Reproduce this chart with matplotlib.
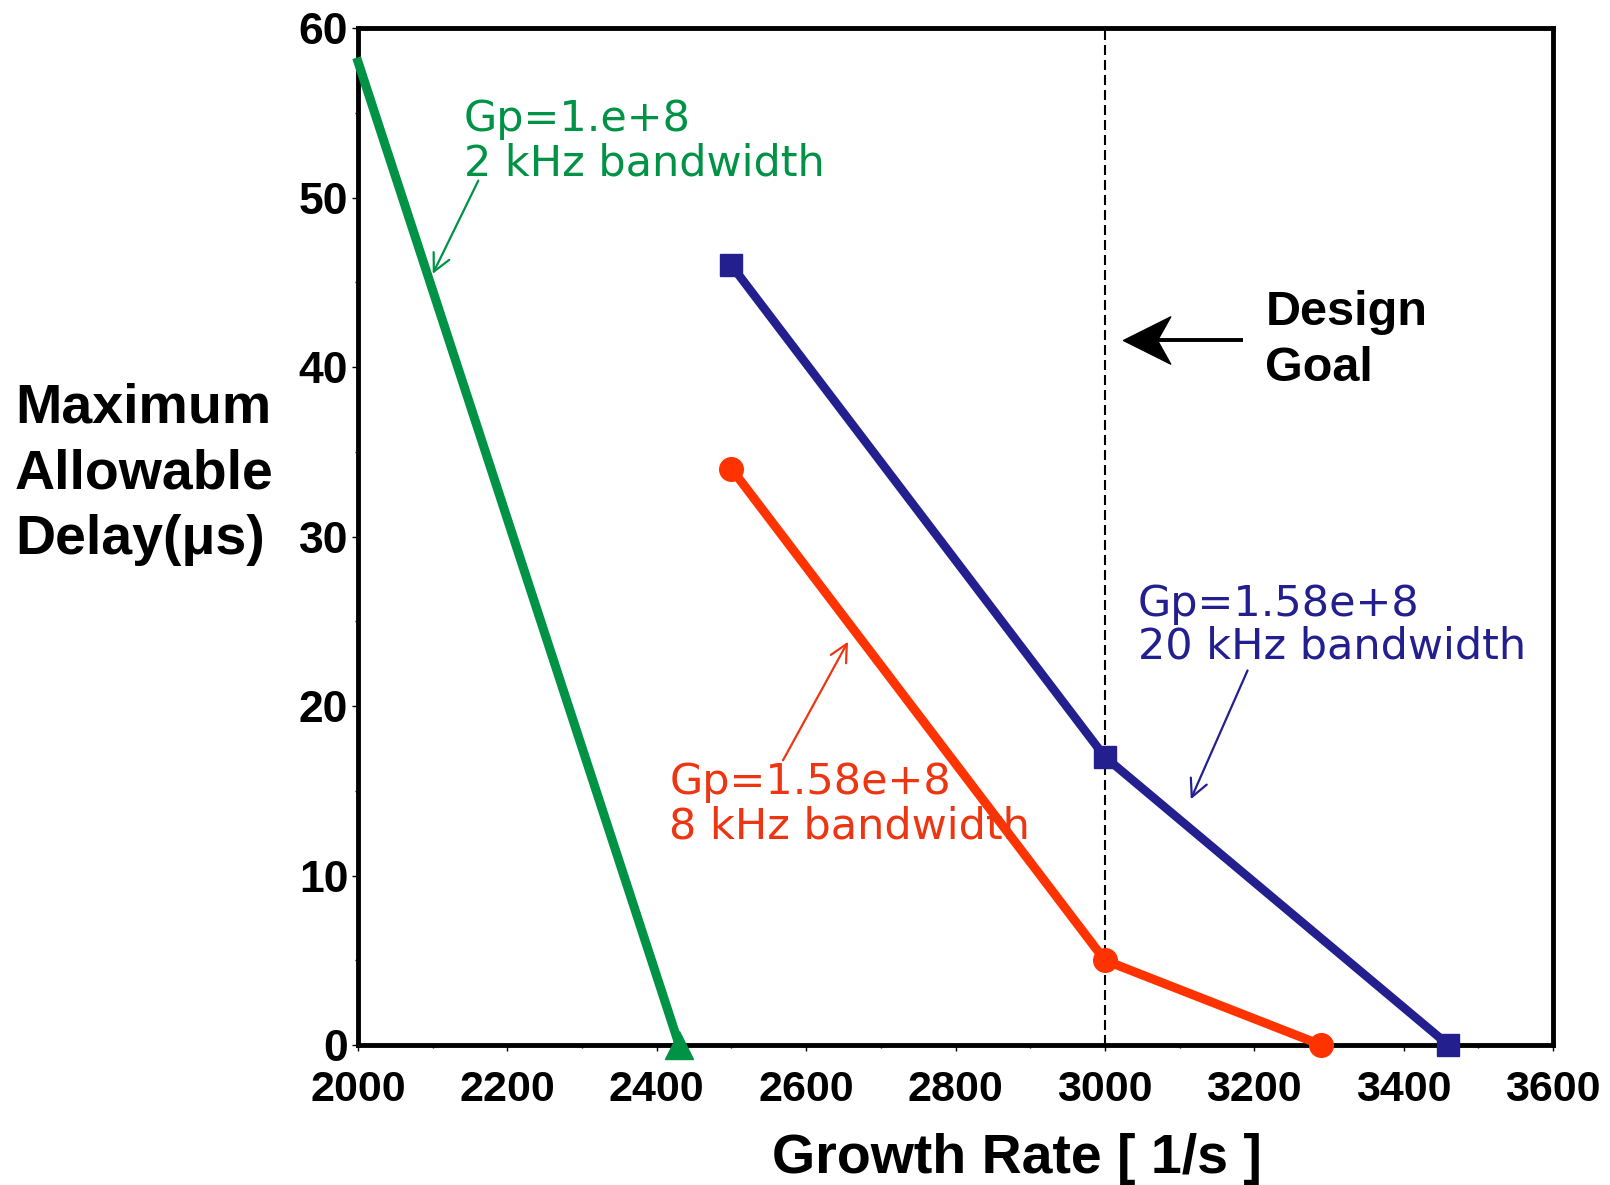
import numpy as np
import matplotlib
matplotlib.use("Agg")
import matplotlib.pyplot as plt
from matplotlib.path import Path
from matplotlib.ticker import MultipleLocator

# growth rate [1/s] vs maximum allowable delay [us]
gp1_rate = [2000, 2430]
gp1_delay = [58, 0]

bw8_rate = [2500, 3000, 3290]
bw8_delay = [34, 5, 0]

bw20_rate = [2500, 3000, 3460]
bw20_delay = [46, 17, 0]

design_goal = 3000

green = "#009245"
red = "#FF3300"
red_txt = "#EE3511"
blue = "#231F8F"

plt.rcParams["font.family"] = ["Liberation Sans", "DejaVu Sans"]

fig = plt.figure(figsize=(16.1, 11.85), dpi=100)
ax = fig.add_axes([0.2224, 0.1181, 0.7422, 0.8582])

ax.plot(gp1_rate, gp1_delay, color=green, lw=6.5, marker="^", markersize=20,
        markevery=[1], clip_on=False, zorder=3)
ax.plot(bw8_rate, bw8_delay, color=red, lw=6.5, marker="o", markersize=17,
        clip_on=False, zorder=3)
ax.plot(bw20_rate, bw20_delay, color=blue, lw=6.2, marker="s", markersize=16,
        clip_on=False, zorder=3)

ax.axvline(design_goal, color="black", lw=1.5, ls=(0, (4.8, 2.4)), zorder=2)

ax.set_xlim(2000, 3600)
ax.set_ylim(0, 60)
ax.xaxis.set_major_locator(MultipleLocator(200))
ax.xaxis.set_minor_locator(MultipleLocator(100))
ax.yaxis.set_major_locator(MultipleLocator(10))
ax.yaxis.set_minor_locator(MultipleLocator(5))

for side in ax.spines.values():
    side.set_linewidth(3.5)
ax.tick_params(which="major", direction="out", length=4, width=1, labelsize=31)
ax.tick_params(which="minor", direction="out", length=2.5, width=1)
ax.tick_params(axis="x", which="major", pad=14)
ax.tick_params(axis="y", which="major", pad=3, labelsize=32)
for lab in ax.get_xticklabels() + ax.get_yticklabels():
    lab.set_fontweight("bold")

ax.set_xlabel("Growth Rate [ 1/s ]", fontsize=40, fontweight="bold")
ax.xaxis.set_label_coords(0.551, -0.086)

# multi-line texts are anchored on the baseline of their last line
fig.text(15 / 1610, 1 - 554 / 1185, "Maximum\nAllowable\nDelay(\u03bcs)",
         fontsize=40, fontweight="bold", ha="left", va="baseline",
         multialignment="left", linespacing=1.34)

# curve labels
note_font = ["DejaVu Sans"]
ax.text(2142, 51.3, "Gp=1.e+8\n2 kHz bandwidth", color=green, fontsize=31,
        family=note_font, va="baseline", linespacing=1.07)
ax.annotate("", xy=(2100, 45.5), xytext=(2161, 51.0),
            arrowprops=dict(arrowstyle="->,head_length=0.5,head_width=0.25",
                            color=green, lw=1.6, mutation_scale=25,
                            shrinkA=0, shrinkB=0))

ax.text(3044, 22.8, "Gp=1.58e+8\n20 kHz bandwidth", color=blue, fontsize=31,
        family=note_font, va="baseline", linespacing=1.03)
ax.annotate("", xy=(3115, 14.5), xytext=(3191, 22.1),
            arrowprops=dict(arrowstyle="->,head_length=0.5,head_width=0.25",
                            color=blue, lw=1.6, mutation_scale=25,
                            shrinkA=0, shrinkB=0))

ax.text(2417, 12.2, "Gp=1.58e+8\n8 kHz bandwidth", color=red_txt, fontsize=31,
        family=note_font, va="baseline", linespacing=1.07)
ax.annotate("", xy=(2656, 23.8), xytext=(2569, 16.8),
            arrowprops=dict(arrowstyle="->,head_length=0.5,head_width=0.25",
                            color=red_txt, lw=1.6, mutation_scale=25,
                            shrinkA=0, shrinkB=0))

# design goal pointer with a barbed head
ax.text(3215, 39.2, "Design\nGoal", fontsize=35, fontweight="bold",
        va="baseline", linespacing=1.29)
ax.plot([3060, 3185], [41.6, 41.6], color="black", lw=2.8, solid_capstyle="butt")
head = Path([(0, 0), (1, 0.5), (0.72, 0), (1, -0.5), (0, 0)],
            [Path.MOVETO, Path.LINETO, Path.LINETO, Path.LINETO, Path.CLOSEPOLY])
ax.plot([3024], [41.6], marker=head, markersize=68, color="black", lw=0)

fig.savefig("out.png", dpi=100)
